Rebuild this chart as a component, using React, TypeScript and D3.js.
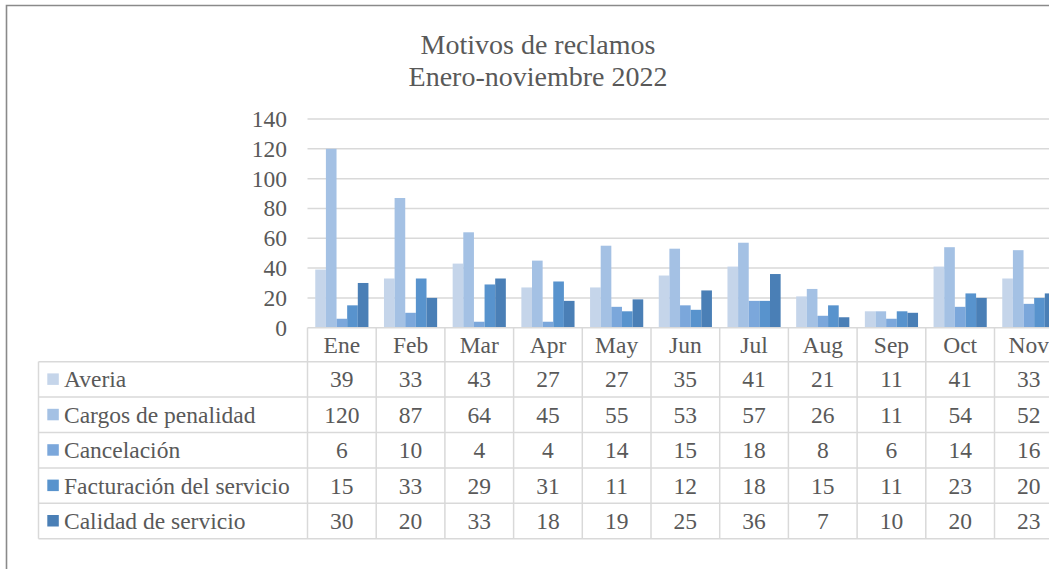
import React from "react";
import * as d3 from "d3";

const months = ["Ene", "Feb", "Mar", "Apr", "May", "Jun", "Jul", "Aug", "Sep", "Oct", "Nov"];
const seriesNames = ["Averia", "Cargos de penalidad", "Cancelación", "Facturación del servicio", "Calidad de servicio"];
const averia = [39, 33, 43, 27, 27, 35, 41, 21, 11, 41, 33];
const cargos = [120, 87, 64, 45, 55, 53, 57, 26, 11, 54, 52];
const cancelacion = [6, 10, 4, 4, 14, 15, 18, 8, 6, 14, 16];
const facturacion = [15, 33, 29, 31, 11, 12, 18, 15, 11, 23, 20];
const calidad = [30, 20, 33, 18, 19, 25, 36, 7, 10, 20, 23];
const yTicks = [0, 20, 40, 60, 80, 100, 120, 140];
const titleLines = ["Motivos de reclamos", "Enero-noviembre 2022"];

const seriesValues = [averia, cargos, cancelacion, facturacion, calidad];
const colors = ["#c5d5ea", "#a4c1e4", "#7ba7db", "#5893cd", "#4a7fb6"];

export default function App() {
  const W = 1049, H = 569;
  const plotLeft = 307.5;
  const step = 68.7;
  const plotRight = plotLeft + step * months.length;
  const y0 = 327.7, yTop = 119;
  const rowH = 35.4;
  const tableLeft = 38.5;
  const font = "'Liberation Serif', 'Times New Roman', serif";
  const textColor = "#595959";
  const gridColor = "#d9d9d9";

  const x = d3.scaleBand<string>().domain(months).range([plotLeft, plotRight]).padding(0);
  const x1 = d3.scaleBand<string>().domain(seriesNames).range([0, x.bandwidth()]).paddingInner(0).paddingOuter(0.73);
  const y = d3.scaleLinear().domain([0, 140]).range([y0, yTop]);

  const headerTop = y0;
  const headerBottom = y0 + 34;
  const rowTop = (i: number) => headerBottom + i * rowH;
  const tableBottom = rowTop(seriesNames.length);

  return (
    <svg width={W} height={H} style={{ position: "fixed", left: 0, top: 0, background: "#fff" }} fontFamily={font}>
      <rect x={0} y={0} width={W} height={H} fill="#fff" />
      {/* outer border */}
      <path d={`M6.5,${H + 5} V5.5 H${W + 5}`} fill="none" stroke="#8a8a8a" strokeWidth={1.6} />
      {/* title */}
      {titleLines.map((t, i) => (
        <text key={t} x={538} y={54 + i * 32} textAnchor="middle" fontSize={28} fill={textColor}>{t}</text>
      ))}
      {/* gridlines */}
      {yTicks.map((t) => (
        <g key={t}>
          {t > 0 && <line x1={plotLeft} x2={W + 20} y1={y(t)} y2={y(t)} stroke={gridColor} strokeWidth={1.5} />}
          <text x={287} y={y(t) + 8} textAnchor="end" fontSize={23.5} fill={textColor}>{t}</text>
        </g>
      ))}
      {/* bars */}
      {months.map((m, mi) => (
        <g key={m} transform={`translate(${x(m)},0)`}>
          {seriesNames.map((s, si) => {
            const v = seriesValues[si][mi];
            return (
              <rect key={s} x={x1(s)} y={y(v)} width={x1.bandwidth()} height={y0 - y(v)} fill={colors[si]} />
            );
          })}
        </g>
      ))}
      {/* table lines */}
      <line x1={plotLeft} x2={W + 20} y1={headerTop} y2={headerTop} stroke={gridColor} strokeWidth={1.5} />
      {seriesNames.map((s, i) => (
        <line key={s} x1={tableLeft} x2={W + 20} y1={rowTop(i)} y2={rowTop(i)} stroke={gridColor} strokeWidth={1.5} />
      ))}
      <line x1={tableLeft} x2={W + 20} y1={tableBottom} y2={tableBottom} stroke={gridColor} strokeWidth={1.5} />
      <line x1={tableLeft} x2={tableLeft} y1={rowTop(0)} y2={tableBottom} stroke={gridColor} strokeWidth={1.5} />
      {months.map((m) => (
        <line key={m} x1={x(m)} x2={x(m)} y1={headerTop} y2={tableBottom} stroke={gridColor} strokeWidth={1.5} />
      ))}
      <line x1={plotRight} x2={plotRight} y1={headerTop} y2={tableBottom} stroke={gridColor} strokeWidth={1.5} />
      {/* header */}
      {months.map((m) => (
        <text key={m} x={(x(m) as number) + x.bandwidth() / 2} y={(headerTop + headerBottom) / 2 + 8} textAnchor="middle" fontSize={23.5} fill={textColor}>{m}</text>
      ))}
      {/* rows */}
      {seriesNames.map((s, si) => {
        const cy = rowTop(si) + rowH / 2;
        return (
          <g key={s}>
            <rect x={47.3} y={cy - 6} width={11.5} height={11.5} fill={colors[si]} />
            <text x={64} y={cy + 8} fontSize={23.5} fill={textColor}>{s}</text>
            {months.map((m, mi) => (
              <text key={m} x={(x(m) as number) + x.bandwidth() / 2} y={cy + 8} textAnchor="middle" fontSize={23.5} fill={textColor}>{seriesValues[si][mi]}</text>
            ))}
          </g>
        );
      })}
    </svg>
  );
}
